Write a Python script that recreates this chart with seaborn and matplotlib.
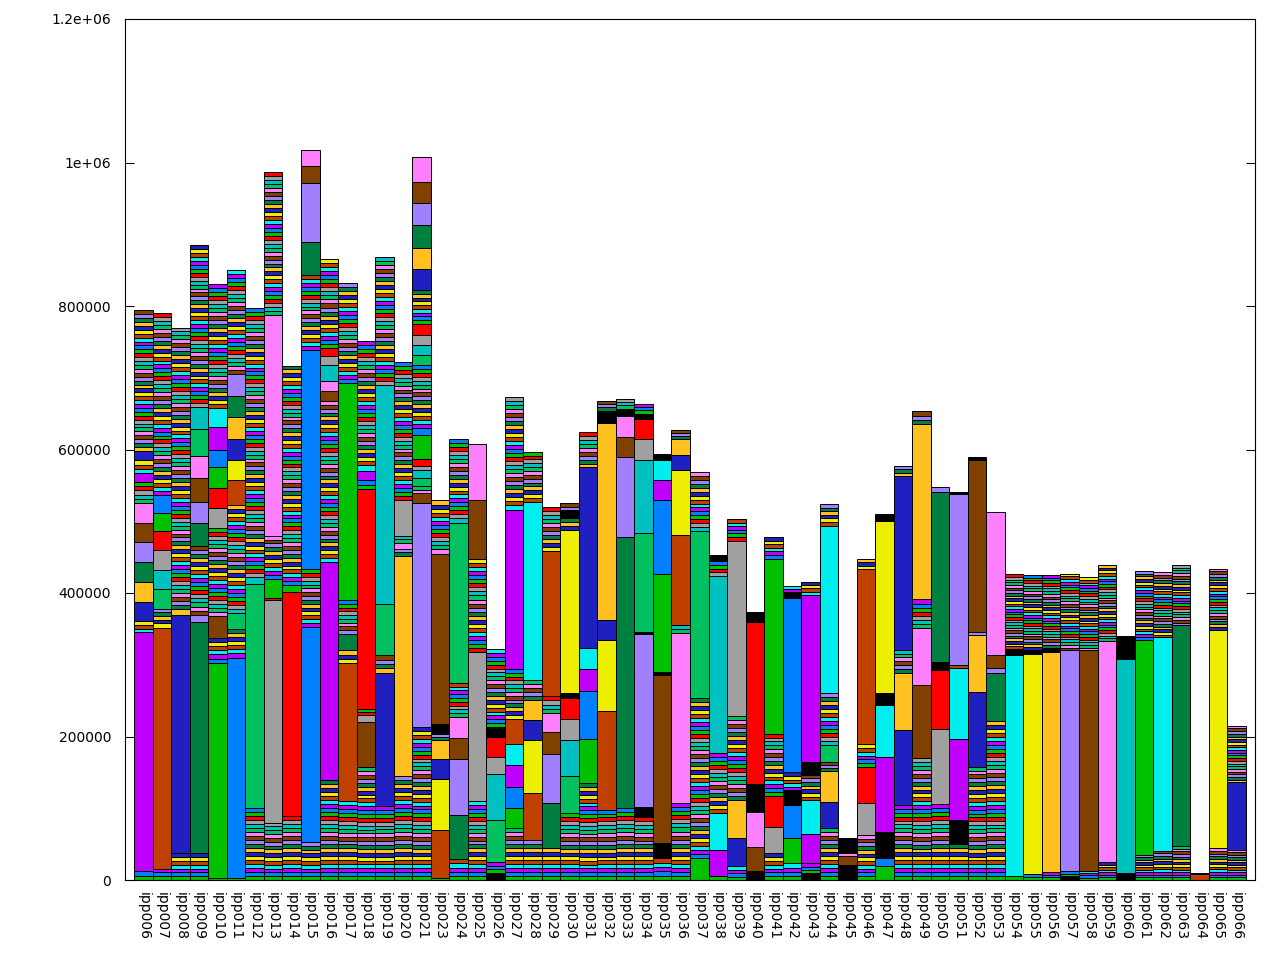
import matplotlib
matplotlib.use('Agg')
import pandas as pd
import matplotlib.pyplot as plt
import seaborn as sns

# Hostu nosaukumi (x ass)
hosts = ['ipp006', 'ipp007', 'ipp008', 'ipp009', 'ipp010', 'ipp011', 'ipp012',
         'ipp013', 'ipp014', 'ipp015', 'ipp016', 'ipp017', 'ipp018', 'ipp019',
         'ipp020', 'ipp021', 'ipp023', 'ipp024', 'ipp025', 'ipp026', 'ipp027',
         'ipp028', 'ipp029', 'ipp030', 'ipp031', 'ipp032', 'ipp033', 'ipp034',
         'ipp035', 'ipp036', 'ipp037', 'ipp038', 'ipp039', 'ipp040', 'ipp041',
         'ipp042', 'ipp043', 'ipp044', 'ipp045', 'ipp046', 'ipp047', 'ipp048',
         'ipp049', 'ipp050', 'ipp051', 'ipp052', 'ipp053', 'ipp054', 'ipp055',
         'ipp056', 'ipp057', 'ipp058', 'ipp059', 'ipp060', 'ipp061', 'ipp062',
         'ipp063', 'ipp064', 'ipp065', 'ipp066']

y_ticks = [0, 200000, 400000, 600000, 800000, 1000000, 1200000]
y_tick_labels = ['0', '200000', '400000', '600000', '800000', '1e+06', '1.2e+06']

# gnuplot krāsu cikls
cycle = ['red', 'green', 'blue', 'magenta', 'cyan', 'sienna', 'yellow', 'navy',
         'gold', 'darkgreen', 'lavender', 'brown', 'pink', 'green2', 'teal', 'gray']
hexes = {'red': '#ff0000', 'green': '#00c000', 'blue': '#0080ff',
         'magenta': '#c000ff', 'cyan': '#00eeee', 'sienna': '#c04000',
         'yellow': '#eeee00', 'navy': '#2020c0', 'gold': '#ffc020',
         'darkgreen': '#008040', 'lavender': '#a080ff', 'brown': '#804000',
         'pink': '#ff80ff', 'green2': '#00c060', 'teal': '#00c0c0',
         'gray': '#a0a0a0', 'black': '#000000'}

# Segmenti no apakšas uz augšu, vērtības tūkstošos.
# (krāsa, vērtība) - liels segments; (n, vērtība) - n plānas joslas
ipp006 = [(2, 12), ('magenta', 333), (3, 16), ('navy', 27), ('gold', 27), ('darkgreen', 28),
          ('lavender', 28), ('brown', 27), ('pink', 27), (5, 30), ('magenta', 12), (3, 18),
          ('navy', 13), (36, 196)]
ipp007 = [(3, 16), ('sienna', 335), ('yellow', 7), (4, 20), ('green2', 27), ('teal', 27),
          ('gray', 28), ('red', 27), ('green', 25), ('blue', 25), (46, 253)]
ipp008 = [(7, 37), ('navy', 333), ('gold', 8), (71, 392)]
ipp009 = [(7, 37), ('darkgreen', 323), ('lavender', 10), (17, 95), ('darkgreen', 32),
          ('lavender', 30), ('brown', 33), ('pink', 31), ('green2', 37), ('teal', 31), (41, 226)]
ipp010 = [(1, 3), ('green', 300), (6, 34), ('brown', 31), (22, 122), ('gray', 28), ('red', 29),
          ('green', 28), ('blue', 25), ('magenta', 31), ('cyan', 27), (31, 173)]
ipp011 = [(1, 3), ('blue', 307), (7, 40), ('green2', 22), (27, 151), ('sienna', 34),
          ('yellow', 28), ('navy', 30), ('gold', 30), ('darkgreen', 30), ('lavender', 30), (26, 145)]
ipp012 = [(18, 100), ('green2', 313), ('teal', 9), (68, 375)]
ipp013 = [(15, 80), ('gray', 310), (1, 3), ('green', 27), (11, 60), ('pink', 307), (36, 200)]
ipp014 = [(16, 89), ('red', 313), ('green', 9), (56, 306)]
ipp015 = [(10, 53), ('blue', 300), (15, 80), ('blue', 306), (19, 104), ('darkgreen', 46),
          ('lavender', 82), ('brown', 24), ('pink', 22)]
ipp016 = [(25, 140), ('magenta', 303), (41, 225), ('brown', 13), ('pink', 14), ('teal', 23),
          ('gray', 13), ('red', 11), (22, 123)]
ipp017 = [(20, 110), ('sienna', 192), (3, 18), ('darkgreen', 23), (9, 47), ('green', 303), (25, 139)]
ipp018 = [(29, 157), ('brown', 63), ('gray', 10), (2, 9), ('red', 306), (2, 12), ('magenta', 13),
          ('cyan', 8), (31, 173)]
ipp019 = [(19, 103), ('navy', 186), (4, 24), ('green2', 72), ('teal', 305), (32, 178)]
ipp020 = [(26, 145), ('gold', 306), (2, 11), ('pink', 8), (2, 10), ('gray', 50), (35, 192)]
ipp021 = [(39, 213), ('lavender', 312), ('brown', 14), (2, 10), ('green2', 11), ('teal', 12),
          ('gray', 5), ('red', 10), ('green', 33), ('blue', 10), (16, 88), ('green2', 14),
          ('teal', 13), ('gray', 15), ('red', 15), (9, 47), ('navy', 30), ('gold', 29),
          ('darkgreen', 32), ('lavender', 30), ('brown', 30), ('pink', 34)]
ipp023 = [(1, 3), ('sienna', 67), ('yellow', 71), ('navy', 27), ('gold', 27), (2, 8),
          ('black', 15), ('brown', 237), (13, 74)]
ipp024 = [(5, 29), ('darkgreen', 62), ('lavender', 77), ('brown', 30), ('pink', 29), (9, 48),
          ('green2', 222), ('teal', 7), (20, 111)]
ipp025 = [(20, 110), ('gray', 208), (23, 129), ('brown', 83), ('pink', 77)]
ipp026 = [('black', 10), (3, 15), ('green2', 58), ('teal', 65), ('gray', 23), ('red', 29),
          ('black', 13), (20, 109)]
ipp027 = [(13, 72), ('green', 29), ('blue', 29), ('magenta', 30), ('cyan', 30), ('sienna', 35),
          (13, 69), ('magenta', 222), ('cyan', 7), (27, 150)]
ipp028 = [(10, 56), ('sienna', 65), ('yellow', 74), ('navy', 28), ('gold', 28), (5, 28),
          ('cyan', 248), (13, 70)]
ipp029 = [(8, 44), ('darkgreen', 64), ('lavender', 68), ('brown', 30), ('pink', 27), (4, 23),
          ('sienna', 203), (11, 61)]
ipp030 = [(17, 93), ('green2', 52), ('teal', 50), ('gray', 30), ('red', 28), ('black', 7),
          ('yellow', 228), (3, 17), ('black', 10), (2, 10)]
ipp031 = [(25, 135), ('green', 61), ('blue', 68), ('magenta', 30), ('cyan', 30), ('navy', 251), (9, 49)]
ipp032 = [(18, 98), ('sienna', 137), ('yellow', 99), ('navy', 29), ('gold', 274), ('black', 17), (3, 14)]
ipp033 = [(18, 100), ('darkgreen', 378), ('lavender', 112), ('brown', 28), ('pink', 28),
          ('black', 11), (3, 13)]
ipp034 = [(16, 88), ('black', 14), ('lavender', 241), ('black', 3), ('green2', 138), ('teal', 102),
          ('gray', 28), ('red', 28), ('black', 8), (3, 14)]
ipp035 = [(5, 30), ('black', 21), ('brown', 235), ('black', 4), ('green', 136), ('blue', 103),
          ('magenta', 28), ('cyan', 28), ('black', 9)]
ipp036 = [(19, 107), ('pink', 237), (2, 11), ('sienna', 126), ('yellow', 90), ('navy', 22),
          ('gold', 21), (3, 13)]
ipp037 = [('green', 30), (40, 223), ('green2', 233), (15, 83)]
ipp038 = [(1, 5), ('magenta', 37), ('cyan', 51), (15, 84), ('teal', 247), (4, 20), ('black', 9)]
ipp039 = [(4, 19), ('navy', 39), ('gold', 53), (21, 117), ('gray', 245), (6, 30)]
ipp040 = [('black', 12), ('brown', 34), ('pink', 49), ('black', 39), ('red', 226), ('black', 14)]
ipp041 = [(7, 37), ('gray', 37), ('red', 43), (16, 87), ('green', 244), (6, 30)]
ipp042 = [(4, 23), ('green', 35), ('blue', 47), ('black', 20), (5, 25), ('blue', 243), ('black', 8), (2, 9)]
ipp043 = [('black', 10), (3, 13), ('magenta', 41), ('cyan', 47), (7, 36), ('black', 18),
          ('magenta', 232), (4, 19)]
ipp044 = [(13, 72), ('navy', 37), ('gold', 43), (3, 13), ('green2', 23), (13, 72), ('cyan', 234), (6, 30)]
ipp045 = [('black', 21), ('brown', 12), (1, 4), ('black', 16), ('yellow', 2), ('black', 3)]
ipp046 = [(12, 63), ('gray', 45), ('red', 49), (6, 33), ('sienna', 243), (3, 15)]
ipp047 = [('green', 20), ('blue', 10), ('black', 37), ('magenta', 105), ('cyan', 72), ('black', 16),
          ('yellow', 240), ('black', 10)]
ipp048 = [(19, 105), ('navy', 104), ('gold', 80), (6, 32), ('navy', 242), (3, 14)]
ipp049 = [(31, 170), ('brown', 102), ('pink', 79), (7, 40), ('gold', 245), (3, 17)]
ipp050 = [(19, 106), ('gray', 105), ('red', 82), ('black', 11), ('darkgreen', 237), (1, 7)]
ipp051 = [(9, 50), ('black', 34), ('magenta', 113), ('cyan', 98), (1, 5), ('lavender', 238), ('black', 3)]
ipp052 = [(29, 158), ('navy', 104), ('gold', 79), ('lavender', 4), ('brown', 240), ('black', 4)]
ipp053 = [(40, 221), ('darkgreen', 68), ('lavender', 6), ('brown', 18), ('pink', 200)]
ipp054 = [(1, 5), ('cyan', 309), ('black', 8), (28, 104)]
ipp055 = [(2, 8), ('yellow', 307), ('black', 6), (28, 104)]
ipp056 = [(3, 11), ('gold', 307), ('black', 6), (27, 101)]
ipp057 = [('black', 5), (2, 7), ('lavender', 308), (28, 107)]
ipp058 = [(4, 13), ('brown', 307), (27, 102)]
ipp059 = [(7, 25), ('pink', 308), (28, 106)]
ipp060 = [('black', 10), ('teal', 298), ('black', 32)]
ipp061 = [(10, 35), ('green', 300), (25, 96)]
ipp062 = [(11, 41), ('cyan', 297), (24, 91)]
ipp063 = [(13, 47), ('darkgreen', 308), (22, 84)]
ipp064 = [('sienna', 9), ('black', 1)]
ipp065 = [(12, 44), ('yellow', 305), (22, 85)]
ipp066 = [(12, 42), ('navy', 94), (21, 79)]

bars = [ipp006, ipp007, ipp008, ipp009, ipp010, ipp011, ipp012, ipp013, ipp014, ipp015,
        ipp016, ipp017, ipp018, ipp019, ipp020, ipp021, ipp023, ipp024, ipp025, ipp026,
        ipp027, ipp028, ipp029, ipp030, ipp031, ipp032, ipp033, ipp034, ipp035, ipp036,
        ipp037, ipp038, ipp039, ipp040, ipp041, ipp042, ipp043, ipp044, ipp045, ipp046,
        ipp047, ipp048, ipp049, ipp050, ipp051, ipp052, ipp053, ipp054, ipp055, ipp056,
        ipp057, ipp058, ipp059, ipp060, ipp061, ipp062, ipp063, ipp064, ipp065, ipp066]

# Sagatavo segmentu tabulu
rows = []
for i, segs in enumerate(bars):
    base = 0.0
    k = 0
    for kind, val in segs:
        val = val * 1000.0
        if isinstance(kind, int):
            h = val / kind
            for j in range(kind):
                k = (k + 1) % len(cycle)
                rows.append((i, base, h, hexes[cycle[k]]))
                base += h
        else:
            if kind in cycle:
                k = cycle.index(kind)
            rows.append((i, base, val, hexes[kind]))
            base += val
df = pd.DataFrame(rows, columns=['pos', 'bottom', 'height', 'color'])

sns.set_style('ticks')
plt.rcParams['font.family'] = ['DejaVu Sans']

fig = plt.figure(figsize=(12.8, 9.6), dpi=100)
ax = fig.add_axes([125 / 1280, 80 / 960, 1130 / 1280, 861 / 960])
ax.bar(df['pos'], df['height'], bottom=df['bottom'], width=1.0, color=df['color'],
       edgecolor='black', linewidth=0.7, align='center')

ax.set_xlim(-1, 60)
ax.set_ylim(0, 1200000)
ax.set_yticks(y_ticks)
ax.set_yticklabels(y_tick_labels)
ax.set_xticks(range(len(hosts)))
ax.set_xticklabels(hosts, rotation=270, ha='center', va='top')
ax.tick_params(axis='y', direction='in', length=6.5, width=0.75, right=True,
               labelsize=10, pad=10, colors='black')
ax.tick_params(axis='x', length=0, labelsize=10, pad=9, colors='black')
for sp in ax.spines.values():
    sp.set_linewidth(0.8)
    sp.set_color('black')

fig.savefig('out.png', dpi=100, facecolor='white')
